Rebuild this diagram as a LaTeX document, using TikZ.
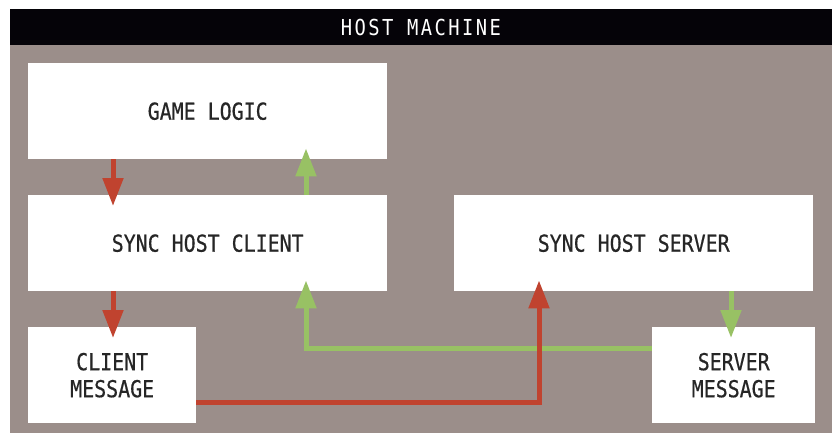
\documentclass[tikz,border=0pt]{standalone}
\usepackage{fontspec}
\usepackage{tikz}
\usetikzlibrary{arrows.meta}
\newfontfamily\boxfont[FakeStretch=0.855,FakeBold=0.6]{DejaVu Sans Mono}
\newfontfamily\barfont[FakeStretch=0.855,LetterSpace=11]{DejaVu Sans Mono}
\definecolor{hostgray}{HTML}{9B8E8A}
\definecolor{barblack}{HTML}{050308}
\definecolor{msgred}{HTML}{C0432F}
\definecolor{msggreen}{HTML}{98C164}

\begin{document}
\begin{tikzpicture}[x=1pt, y=-1pt,
  every node/.style={font=\boxfont\fontsize{23.3}{27}\selectfont, text=black!85},
  block/.style={fill=white, inner sep=0pt, anchor=north west, align=center, minimum height=96pt},
  redline/.style={draw=msgred, line width=5pt, -{Triangle[width=20pt,length=28pt]}},
  greenline/.style={draw=msggreen, line width=5pt, -{Triangle[width=20pt,length=28pt]}}]
\fill[white] (0,0) rectangle (834,433);
\useasboundingbox (0,0) rectangle (834,433);
% host machine frame
\fill[hostgray] (10,45) rectangle (832,433);
\fill[barblack] (10,9) rectangle (832,45);
\node[font=\barfont\fontsize{22}{26}\selectfont, text=white] (title) at (421,27) {HOST MACHINE};
% boxes
\node[block, minimum width=359pt] (logic) at (28,63) {GAME LOGIC};
\node[block, minimum width=359pt] (hclient) at (28,195) {SYNC HOST CLIENT};
\node[block, minimum width=359pt] (hserver) at (454,195) {SYNC HOST SERVER};
\node[block, minimum width=168pt] (cmsg) at (28,327) {CLIENT\\MESSAGE};
\node[block, minimum width=163pt] (smsg) at (652,327) {SERVER\\MESSAGE};
% green messages (server to client)
\draw[greenline] ([xshift=278pt]hclient.north west) -- ([xshift=278pt,yshift=11pt]logic.south west);
\draw[greenline] ([xshift=277pt]hserver.south west) -- ([xshift=79pt,yshift=-11pt]smsg.north west);
\draw[greenline] ([yshift=27pt]smsg.west) -| ([xshift=278pt,yshift=11pt]hclient.south west);
% red messages (client to server)
\draw[redline] ([xshift=85pt]logic.south west) -- ([xshift=85pt,yshift=-11pt]hclient.north west);
\draw[redline] ([xshift=85pt]hclient.south west) -- ([xshift=85pt,yshift=-11pt]cmsg.north west);
\draw[redline] ([yshift=-27pt]cmsg.east) -| ([xshift=85pt,yshift=11pt]hserver.south west);
\end{tikzpicture}
\end{document}
